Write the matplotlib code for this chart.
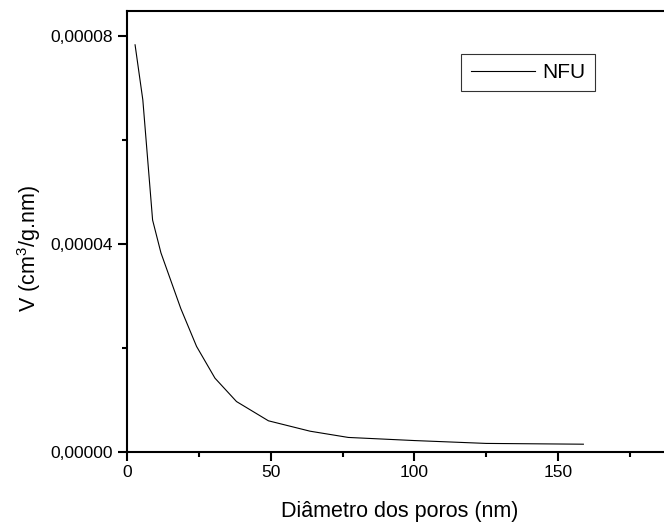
import matplotlib
matplotlib.use("Agg")
import matplotlib.pyplot as plt
from matplotlib.ticker import MultipleLocator, FuncFormatter

plt.rcParams['font.family'] = ['Liberation Sans', 'DejaVu Sans']
plt.rcParams['mathtext.fontset'] = 'custom'
plt.rcParams['mathtext.rm'] = 'Liberation Sans'
plt.rcParams['mathtext.it'] = 'Liberation Sans:italic'
plt.rcParams['mathtext.default'] = 'regular'

# Data
diameter_nm = [2.8, 5.5, 8.9, 11.8, 18.7, 24.2, 30.6, 38.1, 49.2, 63.7, 77.0, 100.0, 125.0, 158.8]
volume = [7.83e-5, 6.77e-5, 4.46e-5, 3.83e-5, 2.76e-5, 2.03e-5, 1.42e-5, 9.7e-6, 6.0e-6,
          4.0e-6, 2.8e-6, 2.2e-6, 1.65e-6, 1.5e-6]
series_name = "NFU"
x_label = "Diâmetro dos poros (nm)"
y_label = "V (cm$^3$/g.nm)"

fig = plt.figure(figsize=(6.64, 5.22), dpi=100)
ax = fig.add_axes([0.1913, 0.1341, 0.8223, 0.8448])

ax.plot(diameter_nm, volume, color='black', linewidth=0.8, label=series_name)

ax.set_xlim(0, 190)
ax.set_ylim(0, 0.0000848)

ax.xaxis.set_major_locator(MultipleLocator(50))
ax.xaxis.set_minor_locator(MultipleLocator(25))
ax.yaxis.set_major_locator(MultipleLocator(0.00004))
ax.yaxis.set_minor_locator(MultipleLocator(0.00002))
ax.yaxis.set_major_formatter(FuncFormatter(lambda v, p: f"{v:.5f}".replace('.', ',')))

for s in ['left', 'bottom', 'top', 'right']:
    ax.spines[s].set_linewidth(1.5)
ax.spines['right'].set_visible(False)

ax.tick_params(which='major', direction='out', length=6.5, width=1.5, labelsize=12.5, pad=4)
ax.tick_params(axis='x', which='major', pad=2.6)
ax.tick_params(which='minor', direction='out', length=3.5, width=1.5)

ax.set_xlabel(x_label, fontsize=15.5)
ax.set_ylabel(y_label, fontsize=15.5)
ax.xaxis.label.set_va('baseline')
ax.yaxis.label.set_va('baseline')
ax.xaxis.set_label_coords(0.5, -0.148)
ax.yaxis.set_label_coords(-0.1667, 0.4615)

leg = ax.legend(loc='center', bbox_to_anchor=(528/664, 1 - 72.5/522),
                bbox_transform=fig.transFigure, fontsize=15, frameon=True,
                fancybox=False, handlelength=3.1, handletextpad=0.35,
                borderpad=0.45, borderaxespad=0)
leg.get_frame().set_edgecolor('black')
leg.get_frame().set_linewidth(0.8)

fig.savefig("out.png", dpi=100)
